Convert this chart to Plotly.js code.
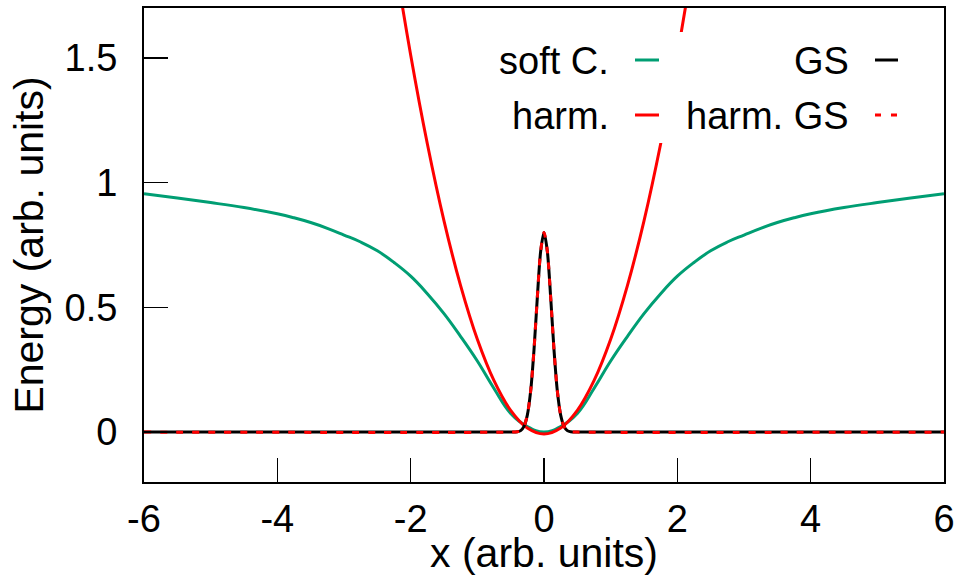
<!DOCTYPE html>
<html>
<head>
<meta charset="utf-8">
<script src="https://cdn.plot.ly/plotly-3.0.1.min.js"></script>
<style>html,body{margin:0;padding:0;background:#fff;}#chart{width:963px;height:576px;}</style>
</head>
<body>
<div id="chart"></div>
<script>
// ---- data ----
const softX = [-6,-5.5,-5,-4.5,-4,-3.75,-3.5,-3.25,-3,-2.75,-2.5,-2.25,-2,-1.75,-1.5,-1.25,-1,-0.75,-0.5,-0.25,0,0.25,0.5,0.75,1,1.25,1.5,1.75,2,2.25,2.5,2.75,3,3.25,3.5,3.75,4,4.5,5,5.5,6];
const softY = [0.955,0.938,0.92,0.90,0.875,0.859,0.84,0.817,0.79,0.762,0.727,0.68,0.625,0.555,0.475,0.383,0.285,0.175,0.075,0.022,0.0,0.022,0.075,0.175,0.285,0.383,0.475,0.555,0.625,0.68,0.727,0.762,0.79,0.817,0.84,0.859,0.875,0.90,0.92,0.938,0.955];

const harmX = [-2.5,-2.25,-2,-1.75,-1.5,-1.25,-1,-0.75,-0.5,-0.25,0,0.25,0.5,0.75,1,1.25,1.5,1.75,2,2.25,2.5];
const harmY = [2.367,1.916,1.512,1.156,0.847,0.586,0.372,0.206,0.087,0.016,-0.008,0.016,0.087,0.206,0.372,0.586,0.847,1.156,1.512,1.916,2.367];

const gsX = [-6,-0.5,-0.4,-0.35,-0.3,-0.25,-0.2,-0.15,-0.1,-0.05,0,0.05,0.1,0.15,0.2,0.25,0.3,0.35,0.4,0.5,6];
const gsY = [0,0,0.0015,0.006,0.023,0.068,0.165,0.33,0.54,0.725,0.80,0.725,0.54,0.33,0.165,0.068,0.023,0.006,0.0015,0,0];

const harmGsX = [-6,-0.5,-0.4,-0.35,-0.3,-0.25,-0.2,-0.15,-0.1,-0.05,0,0.05,0.1,0.15,0.2,0.25,0.3,0.35,0.4,0.5,6];
const harmGsY = [0,0,0.0015,0.006,0.023,0.068,0.165,0.33,0.54,0.725,0.80,0.725,0.54,0.33,0.165,0.068,0.023,0.006,0.0015,0,0];

const seriesNames = ['soft C.', 'harm.', 'GS', 'harm. GS'];
const xTickVals = [-6,-4,-2,0,2,4,6];
const xTickText = ['-6','-4','-2','0','2','4','6'];
const yTickVals = [0,0.5,1,1.5];
const yTickText = ['0','0.5','1','1.5'];

// ---- layout helpers ----
const FONT = 'Liberation Sans, Arial, Helvetica, sans-serif';
const GREEN = '#009e73', RED = '#ff0000', BLACK = '#000000';
const M = {l:144, r:19, t:8, b:94};
const W = 963, H = 576;
const PW = W - M.l - M.r, PH = H - M.t - M.b;
const px2px = p => (p - M.l) / PW;          // pixel x -> paper x
const py2py = p => (H - M.b - p) / PH;       // pixel y -> paper y

const traces = [
  {x: softX, y: softY, name: seriesNames[0], mode:'lines', line:{color:GREEN, width:3, shape:'spline', smoothing:1.2}},
  {x: harmX, y: harmY, name: seriesNames[1], mode:'lines', line:{color:RED, width:3, shape:'spline', smoothing:1}},
  {x: gsX, y: gsY, name: seriesNames[2], mode:'lines', line:{color:BLACK, width:3, shape:'spline', smoothing:0.8}},
  {x: harmGsX, y: harmGsY, name: seriesNames[3], mode:'lines', line:{color:RED, width:3, dash:'7px,9px', shape:'spline', smoothing:0.8}}
];

// manual gnuplot-style key (text right, sample after it)
const keyRows = [60, 115];
const keyCols = [{textRight:611, s0:635, s1:659}, {textRight:851, s0:875, s1:898}];
const keyItems = [
  {col:0,row:0,name:seriesNames[0],color:GREEN,dash:'solid'},
  {col:0,row:1,name:seriesNames[1],color:RED,dash:'solid'},
  {col:1,row:0,name:seriesNames[2],color:BLACK,dash:'solid'},
  {col:1,row:1,name:seriesNames[3],color:RED,dash:'6px,10px'}
];

const shapes = [
  {type:'rect', xref:'paper', yref:'paper', x0:px2px(470), x1:px2px(930), y0:py2py(143), y1:py2py(32),
   fillcolor:'#ffffff', line:{width:0}, layer:'above'}
];
const annotations = [];
keyItems.forEach(k => {
  const c = keyCols[k.col], yy = py2py(keyRows[k.row]);
  shapes.push({type:'line', xref:'paper', yref:'paper', x0:px2px(c.s0), x1:px2px(c.s1), y0:yy, y1:yy,
    line:{color:k.color, width:3, dash:k.dash}, layer:'above'});
  annotations.push({xref:'paper', yref:'paper', x:px2px(c.textRight), y:py2py(keyRows[k.row]+1), xanchor:'right', yanchor:'middle',
    text:k.name, showarrow:false, font:{family:FONT, size:38, color:'#000'}});
});

const axisCommon = {
  showline:true, mirror:true, linecolor:'#000', linewidth:2,
  ticks:'inside', ticklen:24, tickwidth:1.5, tickcolor:'#000',
  showgrid:false, zeroline:false, tickfont:{family:FONT, size:38, color:'#000'},
  tickmode:'array'
};

const layout = {
  width:W, height:H, margin:M, paper_bgcolor:'#fff', plot_bgcolor:'#fff',
  showlegend:false, font:{family:FONT, size:38, color:'#000'},
  xaxis: Object.assign({}, axisCommon, {range:[-6,6], tickvals:xTickVals, ticktext:xTickText, ticklabelstandoff:2,
    title:{text:'x (arb. units)', font:{family:FONT, size:41, color:'#000'}, standoff:16}}),
  yaxis: Object.assign({}, axisCommon, {range:[-0.2,1.7], tickvals:yTickVals, ticktext:yTickText, ticklabelstandoff:17,
    title:{text:'Energy (arb. units)', font:{family:FONT, size:41, color:'#000'}, standoff:8}}),
  shapes: shapes,
  annotations: annotations
};

Plotly.newPlot('chart', traces, layout, {staticPlot:true, displayModeBar:false});
</script>
</body>
</html>
